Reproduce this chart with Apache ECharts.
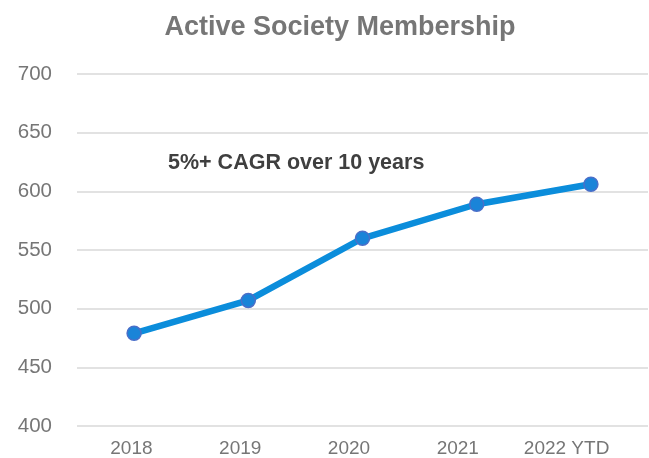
<!DOCTYPE html>
<html lang="en">
<head>
    <meta charset="UTF-8">
    <title>Active Society Membership</title>
    <style>
        html, body { margin: 0; padding: 0; background: #fff; }
        #main { width: 649px; height: 458px; }
    </style>
</head>
<body>
    <div id="main"></div>
    <script src="https://cdn.jsdelivr.net/npm/echarts@6/dist/echarts.min.js"></script>
    <script>
        // data
        var years = ['2018', '2019', '2020', '2021', '2022 YTD'];
        var members = [479, 507, 560, 589, 606];
        var yTicks = { min: 400, max: 700, step: 50 };

        var font = 'Arial, "Liberation Sans", sans-serif';
        var chart = echarts.init(document.getElementById('main'));
        chart.setOption({
            animation: false,
            title: {
                text: 'Active Society Membership',
                left: 335, top: 9, textAlign: 'center',
                textStyle: { color: '#767676', fontSize: 27, fontWeight: 'bold', fontFamily: font }
            },
            grid: [
                { left: 77, right: 1, top: 74, bottom: 32 },
                // label row only, Excel packs the labels a bit to the left
                { left: 77, right: 28, top: 74, bottom: 32 }
            ],
            xAxis: [{
                type: 'category', data: years, gridIndex: 0,
                axisLine: { show: false }, axisTick: { show: false },
                axisLabel: { show: false }
            }, {
                type: 'category', data: years, gridIndex: 1,
                axisLine: { show: false }, axisTick: { show: false },
                axisLabel: { color: '#767676', fontSize: 19, fontFamily: font, margin: 14, interval: 0 }
            }],
            yAxis: [{
                type: 'value', gridIndex: 0,
                min: yTicks.min, max: yTicks.max, interval: yTicks.step,
                axisLine: { show: false }, axisTick: { show: false },
                axisLabel: { color: '#767676', fontSize: 20.5, fontFamily: font, margin: 25 },
                splitLine: { lineStyle: { color: '#d9d9d9', width: 1.5 } }
            }, {
                type: 'value', gridIndex: 1, show: false,
                min: yTicks.min, max: yTicks.max
            }],
            graphic: [{
                type: 'text', left: 168, top: 152,
                style: {
                    text: '5%+ CAGR over 10 years',
                    fill: '#3f3f3f', font: 'bold 21.5px ' + font
                }
            }],
            series: [{
                type: 'line', data: members,
                xAxisIndex: 0, yAxisIndex: 0,
                symbol: 'circle', symbolSize: 14,
                lineStyle: { color: '#0b8ddb', width: 6.5 },
                itemStyle: { color: '#1a84d8', borderColor: '#4a6fc9', borderWidth: 1.5 }
            }]
        });
    </script>
</body>
</html>
